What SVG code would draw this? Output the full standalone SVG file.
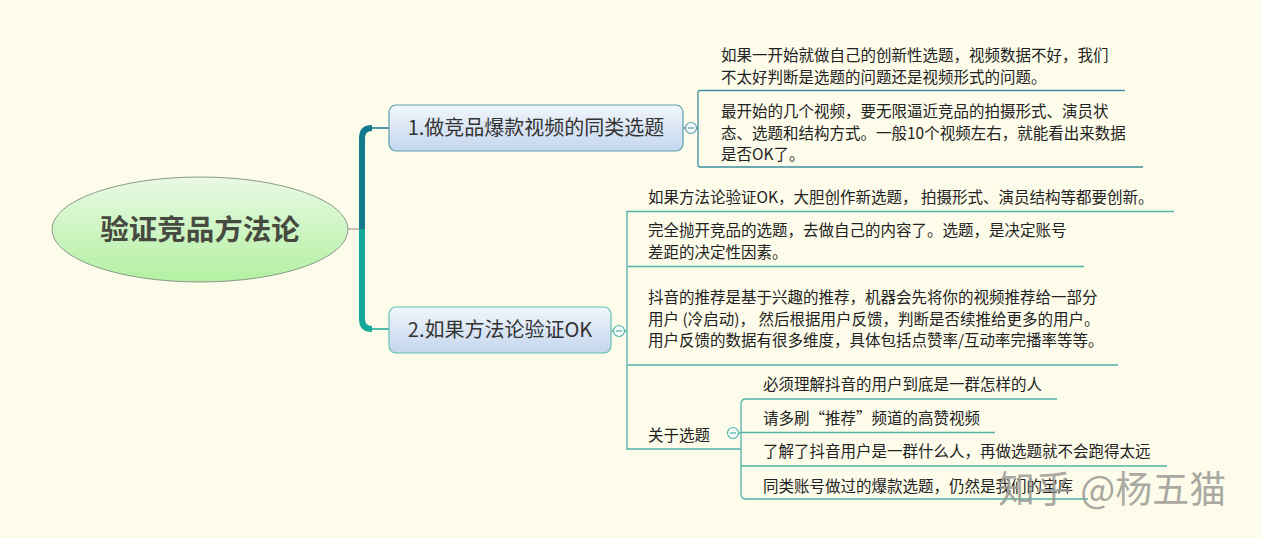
<svg xmlns="http://www.w3.org/2000/svg" width="1261" height="538" viewBox="0 0 1261 538">
<defs>
<linearGradient id="gEll" x1="0" y1="0" x2="0" y2="1">
<stop offset="0" stop-color="#e9f9e4"/>
<stop offset="1" stop-color="#b3f0a2"/>
</linearGradient>
<linearGradient id="gNode" x1="0" y1="0" x2="0" y2="1">
<stop offset="0" stop-color="#f2f6fb"/>
<stop offset="1" stop-color="#c3d6ee"/>
</linearGradient>
<style>
text{font-family:"Noto Sans CJK SC","Liberation Sans",sans-serif;fill:#222}
.body{font-size:15.5px}
.node{font-size:20px;fill:#333}
.ln1{fill:none;stroke:#3f8e9e;stroke-width:1.3}
.ln2{fill:none;stroke:#4fb3a8;stroke-width:1.3}
.tog{fill:#f6fbfa;stroke-width:1.2}
</style>
</defs>
<rect width="1261" height="538" fill="#fdfcea"/>

<g id="connectors">
<line x1="348" y1="229" x2="362" y2="229" stroke="#888" stroke-width="1"/>
<path d="M362 229 V138 Q362 128 372 128" fill="none" stroke="#127a8e" stroke-width="6"/>
<line x1="371" y1="128" x2="389" y2="128" stroke="#127a8e" stroke-width="1.5"/>
<path d="M362 229 V319 Q362 329 372 329" fill="none" stroke="#13a898" stroke-width="6"/>
<line x1="371" y1="329" x2="389" y2="329" stroke="#13a898" stroke-width="1.5"/>
<!-- node 1 children -->
<line x1="683" y1="128" x2="698" y2="128" class="ln1"/>
<path d="M1125 90.5 H700 Q698 90.5 698 92.5 V165 Q698 167 700 167 H1143" class="ln1"/>
<!-- node 2 children -->
<line x1="611" y1="331" x2="627" y2="331" class="ln2"/>
<path d="M1174 211.5 H627 V449 H741" class="ln2"/>
<line x1="627" y1="266.5" x2="1084" y2="266.5" class="ln2"/>
<line x1="627" y1="365" x2="1118" y2="365" class="ln2"/>
<!-- 关于选题 children -->
<line x1="738" y1="433" x2="741" y2="433" class="ln2"/>
<path d="M1057 399 H746 Q741 399 741 404 V494 Q741 499 746 499 H1088" class="ln2"/>
<line x1="741" y1="432.5" x2="995" y2="432.5" class="ln2"/>
<line x1="741" y1="466" x2="1167" y2="466" class="ln2"/>
</g>

<g id="root">
<ellipse cx="200" cy="229.5" rx="148" ry="52.5" fill="url(#gEll)" stroke="#8a9a88" stroke-width="1"/>
<text x="200" y="240" text-anchor="middle" font-size="28.5" font-weight="bold" style="fill:#474a40">验证竞品方法论</text>
</g>

<g id="n1">
<rect x="389" y="105" width="294" height="46" rx="7" fill="url(#gNode)" stroke="#5c9db0" stroke-width="1.2"/>
<text x="536" y="135" text-anchor="middle" class="node">1.做竞品爆款视频的同类选题</text>
<circle cx="691" cy="128" r="5.5" class="tog" stroke="#5c9db0"/>
<line x1="688" y1="128" x2="694" y2="128" stroke="#5c9db0" stroke-width="1.2"/>
</g>

<g id="n1c1">
<text class="body" x="721" y="61">如果一开始就做自己的创新性选题，视频数据不好，我们</text>
<text class="body" x="721" y="83">不太好判断是选题的问题还是视频形式的问题。</text>
</g>
<g id="n1c2">
<text class="body" x="721" y="117">最开始的几个视频，要无限逼近竞品的拍摄形式、演员状</text>
<text class="body" x="721" y="139">态、选题和结构方式。一般10个视频左右，就能看出来数据</text>
<text class="body" x="721" y="160">是否OK了。</text>
</g>

<g id="n2">
<rect x="389" y="307" width="222" height="46" rx="7" fill="url(#gNode)" stroke="#62c0b2" stroke-width="1.2"/>
<text x="500" y="337" text-anchor="middle" class="node">2.如果方法论验证OK</text>
<circle cx="619" cy="331" r="5.5" class="tog" stroke="#4fb3a8"/>
<line x1="616" y1="331" x2="622" y2="331" stroke="#4fb3a8" stroke-width="1.2"/>
</g>

<g id="n2c1">
<text class="body" x="648" y="203">如果方法论验证OK，大胆创作新选题， 拍摄形式、演员结构等都要创新。</text>
</g>
<g id="n2c2">
<text class="body" x="648" y="236">完全抛开竞品的选题，去做自己的内容了。选题，是决定账号</text>
<text class="body" x="648" y="258">差距的决定性因素。</text>
</g>
<g id="n2c3">
<text class="body" x="648" y="303">抖音的推荐是基于兴趣的推荐，机器会先将你的视频推荐给一部分</text>
<text class="body" x="648" y="325">用户 (冷启动)， 然后根据用户反馈，判断是否续推给更多的用户。</text>
<text class="body" x="648" y="346">用户反馈的数据有很多维度，具体包括点赞率/互动率完播率等等。</text>
</g>
<g id="n2c4">
<text class="body" x="648" y="441">关于选题</text>
<circle cx="733" cy="433" r="5.5" class="tog" stroke="#4fb3a8"/>
<line x1="730" y1="433" x2="736" y2="433" stroke="#4fb3a8" stroke-width="1.2"/>
</g>
<g id="s1"><text class="body" x="763" y="390">必须理解抖音的用户到底是一群怎样的人</text></g>
<g id="s2"><text class="body" x="763" y="424">请多刷“推荐”频道的高赞视频</text></g>
<g id="s3"><text class="body" x="763" y="457">了解了抖音用户是一群什么人，再做选题就不会跑得太远</text></g>
<g id="s4"><text class="body" x="763" y="492">同类账号做过的爆款选题，仍然是我们的宝库</text></g>

<g id="watermark">
<text x="998" y="503" font-size="37" style="fill:#9a9a95;fill-opacity:0.85">知乎 @杨五猫</text>
</g>
</svg>
